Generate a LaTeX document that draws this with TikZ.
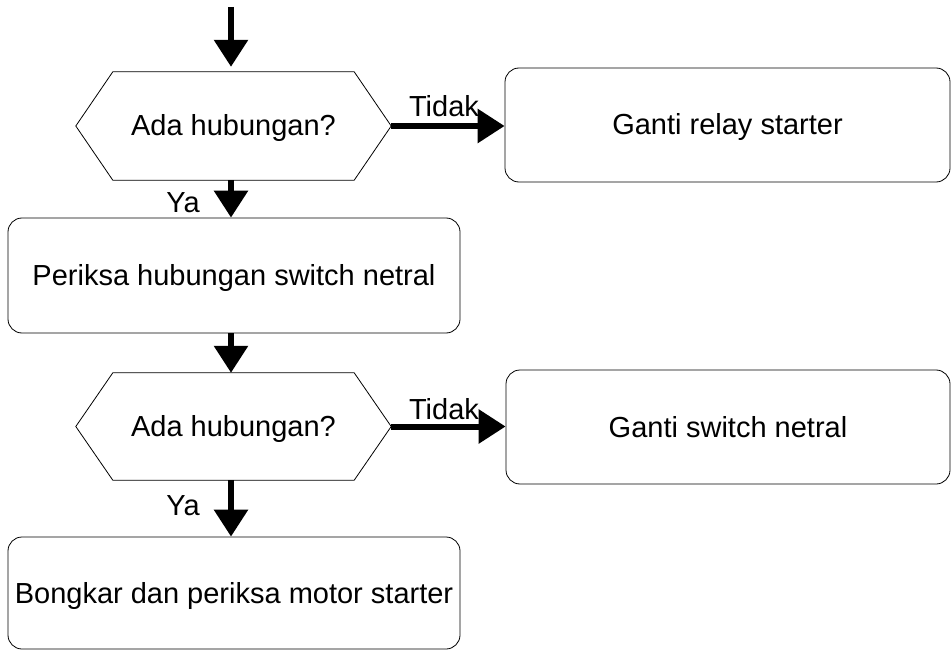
\documentclass[tikz,border=0pt]{standalone}
\usepackage{fontspec}
\setmainfont{Liberation Sans}
\usetikzlibrary{arrows.meta}
\begin{document}
\begin{tikzpicture}[x=1pt,y=-1pt,
  txt/.style={font=\fontsize{29}{34}\selectfont, text height=20pt, text depth=0pt},
  box/.style={txt, draw=black, line width=0.8pt, rounded corners=14pt, inner sep=0pt},
  hexbase/.style={txt, inner sep=0pt, minimum width=315pt, minimum height=108pt},
  hexline/.style={draw=black, line width=0.8pt},
  flow/.style={line width=6pt, -{Triangle[width=33pt,length=27pt]}},
  lbl/.style={txt, inner sep=0pt}]
\useasboundingbox (0,0) rectangle (951,650);

% nodes
\node[hexbase] (h1) at (233.5,126) {Ada hubungan?};
\node[box, minimum width=445pt, minimum height=114pt] (b1) at (727.5,125) {Ganti relay starter};
\node[box, minimum width=452pt, minimum height=115pt] (b2) at (234,275.5) {Periksa hubungan switch netral};
\node[hexbase, minimum height=107pt] (h2) at (233.5,426.5) {Ada hubungan?};
\node[box, minimum width=444pt, minimum height=114pt] (b3) at (728,427) {Ganti switch netral};
\node[box, minimum width=452pt, minimum height=112pt] (b4) at (234,593) {Bongkar dan periksa motor starter};

% hexagon outlines
\foreach \h in {h1,h2}{
  \draw[hexline] (\h.west) -- ([xshift=37pt]\h.north west) -- ([xshift=-37pt]\h.north east)
    -- (\h.east) -- ([xshift=-37pt]\h.south east) -- ([xshift=37pt]\h.south west) -- cycle;
}

% connectors
\coordinate (start) at (231,7);
\draw[flow, shorten >=5pt] (start) -- (h1.north -| start);
\draw[flow] (h1.east) -- (b1.west |- h1.east);
\draw[flow] (h1.south -| start) -- (b2.north -| start);
\draw[flow] (b2.south -| start) -- (h2.north -| start);
\draw[flow] (h2.east) -- (b3.west |- h2.east);
\draw[flow] (h2.south -| start) -- (b4.north -| start);

% labels
\node[lbl] (t1) at (444,107) {Tidak};
\node[lbl] (t2) at (444,409) {Tidak};
\node[lbl] (y1) at (183,202) {Ya};
\node[lbl] (y2) at (183,505) {Ya};
\end{tikzpicture}
\end{document}
